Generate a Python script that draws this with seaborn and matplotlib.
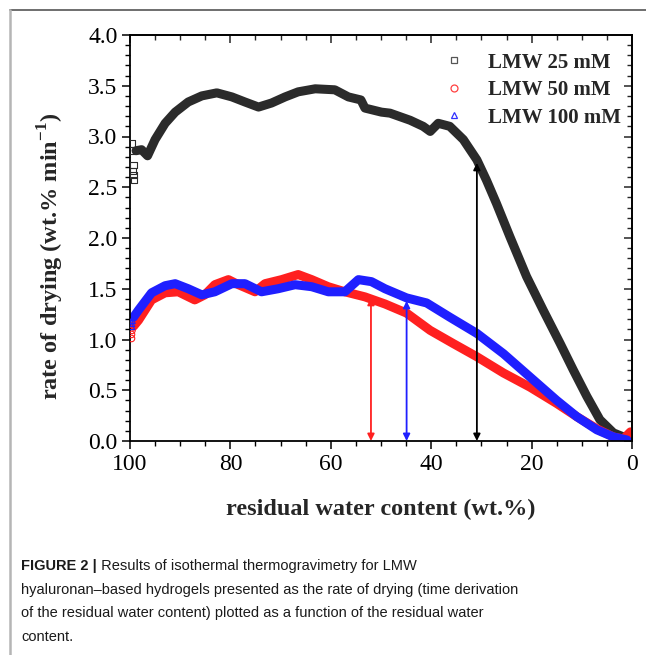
import numpy as np
import pandas as pd
import seaborn as sns
import matplotlib
matplotlib.use("Agg")
import matplotlib.pyplot as plt
from matplotlib.lines import Line2D
from matplotlib.ticker import MultipleLocator

# ---------------- data ----------------
x_25 = [98.8, 97.7, 96.5, 95.0, 93.0, 91.0, 88.4, 85.7, 82.7, 79.7, 77.1, 74.4, 71.8, 69.1,
        66.5, 63.1, 59.2, 56.5, 54.0, 53.2, 49.9, 48.2, 44.2, 41.6, 40.2, 38.6, 36.3, 33.6,
        30.9, 29.0, 27.0, 24.3, 21.0, 17.7, 14.3, 11.7, 9.0, 6.4, 3.7, 1.7, 0.5]
y_25 = [2.86, 2.87, 2.81, 2.97, 3.13, 3.24, 3.34, 3.40, 3.43, 3.39, 3.34, 3.29, 3.33, 3.39,
        3.44, 3.47, 3.46, 3.39, 3.36, 3.28, 3.24, 3.23, 3.16, 3.10, 3.05, 3.13, 3.10, 2.97,
        2.77, 2.57, 2.34, 2.01, 1.62, 1.29, 0.96, 0.70, 0.44, 0.21, 0.08, 0.04, 0.03]
x_25_start = [99.6, 99.5, 99.3, 99.4, 99.3, 99.2]
y_25_start = [2.93, 2.86, 2.72, 2.66, 2.62, 2.57]

x_50 = [99.3, 98.3, 95.7, 93.0, 90.4, 87.1, 85.1, 83.1, 80.4, 78.4, 75.1, 73.1, 69.8, 66.5,
        63.8, 60.5, 57.2, 53.2, 49.2, 44.9, 40.2, 35.6, 30.9, 25.6, 20.3, 15.0, 11.0, 7.0,
        3.7, 1.7, 0.3]
y_50 = [1.13, 1.19, 1.39, 1.46, 1.47, 1.39, 1.44, 1.54, 1.59, 1.54, 1.47, 1.55, 1.59, 1.64,
        1.59, 1.52, 1.47, 1.42, 1.35, 1.26, 1.09, 0.96, 0.83, 0.67, 0.53, 0.37, 0.24, 0.12,
        0.04, 0.02, 0.09]
x_50_start = [99.7, 99.7, 99.6]
y_50_start = [1.01, 1.05, 1.09]

x_100 = [99.3, 98.3, 95.7, 93.0, 91.0, 88.4, 85.7, 83.1, 79.7, 77.1, 73.8, 70.5, 67.1, 63.8,
         60.5, 57.2, 54.5, 51.9, 49.2, 44.9, 40.9, 36.3, 30.9, 25.6, 20.3, 15.0, 11.0, 7.0,
         3.7, 1.0]
y_100 = [1.22, 1.29, 1.46, 1.53, 1.55, 1.50, 1.44, 1.47, 1.55, 1.55, 1.47, 1.50, 1.54, 1.52,
         1.47, 1.47, 1.59, 1.57, 1.50, 1.41, 1.36, 1.22, 1.06, 0.86, 0.63, 0.40, 0.24, 0.11,
         0.04, 0.01]
x_100_start = [99.7, 99.7, 99.6]
y_100_start = [1.13, 1.16, 1.19]

labels = ["LMW 25 mM", "LMW 50 mM", "LMW 100 mM"]
colors = ["#2b2b2b", "#ff2020", "#1f1fff"]
legend_colors = ["#555555", "#ff4040", "#3030ff"]

# arrows: x position, top value
arrow_x = [52.0, 44.9, 30.9]
arrow_top = [1.41, 1.38, 2.74]
arrow_colors = ["#ff2020", "#1f1fff", "#000000"]

x_ticks = [100, 80, 60, 40, 20, 0]
y_ticks = [0.0, 0.5, 1.0, 1.5, 2.0, 2.5, 3.0, 3.5, 4.0]

caption_bold = "FIGURE 2 |"
caption_lines = [
    " Results of isothermal thermogravimetry for LMW",
    "hyaluronan\u2013based hydrogels presented as the rate of drying (time derivation",
    "of the residual water content) plotted as a function of the residual water",
    "content.",
]

# ---------------- style ----------------
sns.set_theme(style="ticks")
plt.rcParams["font.family"] = ["Liberation Serif", "DejaVu Serif"]
plt.rcParams["mathtext.fontset"] = "custom"
plt.rcParams["mathtext.rm"] = "Liberation Serif"
plt.rcParams["mathtext.bf"] = "Liberation Serif:bold"

fig = plt.figure(figsize=(6.46, 6.55), dpi=100)
ax = fig.add_axes([130 / 646, 1 - 441 / 655, 502 / 646, 406 / 655])

series = [(x_25, y_25), (x_50, y_50), (x_100, y_100)]
starts = [(x_25_start, y_25_start), (x_50_start, y_50_start), (x_100_start, y_100_start)]
markers = ["s", "o", "^"]

for (xs, ys), (sx, sy), col, lab, mk in zip(series, starts, colors, labels, markers):
    df = pd.DataFrame({"x": xs, "y": ys})
    sns.lineplot(data=df, x="x", y="y", sort=False, color=col, lw=6.5, ax=ax,
                 solid_capstyle="round", solid_joinstyle="round", legend=False)
    sdf = pd.DataFrame({"x": sx, "y": sy})
    ax.scatter(sdf["x"], sdf["y"], marker=mk, s=22, facecolors="none",
               edgecolors=col, linewidths=0.8, zorder=3)

for xa, ya, ca in zip(arrow_x, arrow_top, arrow_colors):
    ax.annotate("", xy=(xa, ya), xytext=(xa, 0.0),
                arrowprops=dict(arrowstyle="<|-|>", color=ca, lw=1.3,
                                mutation_scale=10, shrinkA=0, shrinkB=0))

ax.set_xlim(100, 0)
ax.set_ylim(0, 4.0)
ax.set_xticks(x_ticks)
ax.set_yticks(y_ticks)
ax.set_xticklabels([str(t) for t in x_ticks])
ax.set_yticklabels([f"{t:.1f}" for t in y_ticks])
ax.xaxis.set_minor_locator(MultipleLocator(5))
ax.yaxis.set_minor_locator(MultipleLocator(0.1))
ax.tick_params(which="major", direction="out", length=6, width=1.1, labelsize=17,
               colors="black", pad=3)
ax.tick_params(which="minor", direction="out", length=3.5, width=1.0, colors="black")
for sp in ax.spines.values():
    sp.set_linewidth(1.3)
    sp.set_color("black")
    sp.set_visible(True)

# inward ticks on top / right
secx = ax.secondary_xaxis("top")
secx.set_xticks(x_ticks)
secx.xaxis.set_minor_locator(MultipleLocator(5))
secx.tick_params(which="major", direction="in", length=6, width=1.1, labeltop=False)
secx.tick_params(which="minor", direction="in", length=3.5, width=1.0)
secx.set_xticklabels([])
secy = ax.secondary_yaxis("right")
secy.set_yticks(y_ticks)
secy.yaxis.set_minor_locator(MultipleLocator(0.1))
secy.tick_params(which="major", direction="in", length=6, width=1.1, labelright=False)
secy.tick_params(which="minor", direction="in", length=3.5, width=1.0)
secy.set_yticklabels([])
for s in (secx, secy):
    for sp in s.spines.values():
        sp.set_linewidth(1.3)

ax.set_xlabel("residual water content (wt.%)", fontsize=17.5, fontweight="bold")
ax.xaxis.set_label_coords(0.5, -0.142)
ax.set_ylabel(r"rate of drying (wt.% min$^{\mathbf{-1}}$)", fontsize=17.5,
              fontweight="bold")
ax.yaxis.set_label_coords(-0.127, 0.455)

handles = [Line2D([], [], ls="none", marker=m, markersize=5, markerfacecolor="none",
                  markeredgecolor=c, markeredgewidth=0.9)
           for m, c in zip(markers, legend_colors)]
ax.legend(handles, labels, loc="upper right", bbox_to_anchor=(1.013, 1.0), frameon=False,
          prop={"family": "Liberation Serif", "weight": "bold", "size": 15},
          handletextpad=1.0, labelspacing=0.36, handlelength=1.2, borderaxespad=0.45)

# figure frame lines (top and left)
fig.add_artist(Line2D([9.5 / 646, 1.0], [1 - 9.5 / 655, 1 - 9.5 / 655],
                      transform=fig.transFigure, color="#555555", lw=1.2))
fig.add_artist(Line2D([9.5 / 646, 9.5 / 646], [1 - 9.5 / 655, 0.0],
                      transform=fig.transFigure, color="#b5b5b5", lw=1.8))

# caption
cap_font = ["Liberation Sans", "DejaVu Sans"]
cap_size = 10.5
x0 = 21 / 646
line_y = [566, 590, 613, 637]
tb = fig.text(x0, 1 - line_y[0] / 655, caption_bold, fontsize=cap_size, fontweight="bold",
              family=cap_font, va="center", ha="left", color="#1a1a1a")
fig.canvas.draw()
bb = tb.get_window_extent()
fig.text(bb.x1 / fig.bbox.width, 1 - line_y[0] / 655, caption_lines[0], fontsize=cap_size,
         family=cap_font, va="center", ha="left", color="#1a1a1a")
for ln, yy in zip(caption_lines[1:], line_y[1:]):
    fig.text(x0, 1 - yy / 655, ln, fontsize=cap_size, family=cap_font, va="center",
             ha="left", color="#1a1a1a")

fig.savefig("out.png", dpi=100)
